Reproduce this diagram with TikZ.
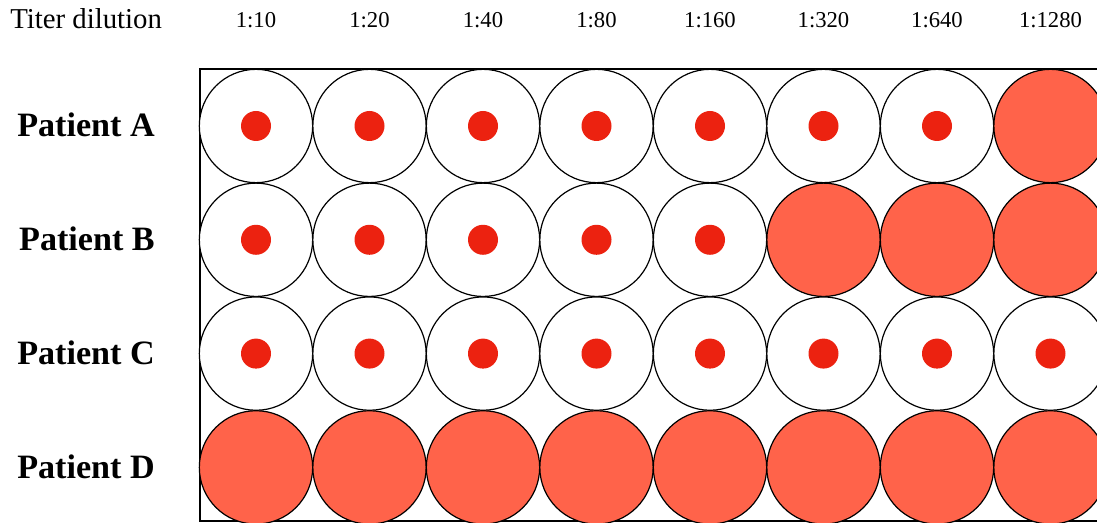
\documentclass[tikz,border=0pt]{standalone}
\usepackage{fontspec}
\setmainfont{Liberation Serif}
\usetikzlibrary{positioning}
\definecolor{wellred}{RGB}{255,99,74}
\definecolor{dotred}{RGB}{236,34,16}

\begin{document}
\begin{tikzpicture}[x=0.75pt, y=-0.75pt]
\tikzstyle{well}=[circle, draw, line width=0.9pt, minimum size=85pt, inner sep=0pt, fill=white]
\tikzstyle{poswell}=[well, fill=wellred]
\tikzstyle{dot}=[circle, fill=dotred, minimum size=22.5pt, inner sep=0pt]
\tikzstyle{dil}=[font=\fontsize{17}{20}\selectfont, anchor=base]
\tikzstyle{pat}=[font=\fontsize{25.6}{30}\selectfont\bfseries, anchor=base east, inner sep=0pt]
\useasboundingbox (0,0) rectangle (1097,523);
\clip (0,0) rectangle (1097,523);
\node[font=\fontsize{21.6}{25}\selectfont, anchor=base west, inner sep=0pt] (title) at (10,29) {Titer dilution};
% plate outline, runs off the right side
\draw[line width=1.5pt] (1110,69.5) -- (199.5,69.5) -- (199.5,521.5) -- (1110,521.5);
\foreach \d [count=\c] in {10,20,40,80,160,320,640,1280}
  \node[dil] (dil\c) at ({256+113.5*(\c-1)},28) {1:\d};
% last column with a button, then full wells
\foreach \p/\last [count=\r] in {A/7,B/5,C/8,D/0} {
  \node[pat] (pat\p) at (155,{137+113.8*(\r-1)}) {Patient \p};
  \foreach \c in {1,...,8} {
    \ifnum\c>\last
      \node[poswell] (well\p\c) at ({256+113.5*(\c-1)},{126+113.8*(\r-1)}) {};
    \else
      \node[well] (well\p\c) at ({256+113.5*(\c-1)},{126+113.8*(\r-1)}) {};
      \node[dot] (dot\p\c) at (well\p\c) {};
    \fi
  }
}
\end{tikzpicture}
\end{document}
